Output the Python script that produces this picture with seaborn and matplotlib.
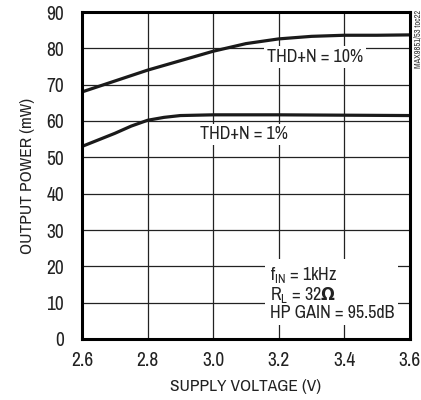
import matplotlib
matplotlib.use("Agg")
import matplotlib.pyplot as plt
import seaborn as sns
import pandas as pd
from matplotlib import font_manager

v10 = [2.60, 2.70, 2.80, 2.90, 3.00, 3.10, 3.20, 3.30, 3.40, 3.50, 3.60]
p10 = [68.0, 71.0, 74.0, 76.6, 79.2, 81.3, 82.6, 83.3, 83.6, 83.6, 83.7]
v1 = [2.60, 2.70, 2.75, 2.80, 2.85, 2.90, 3.00, 3.20, 3.40, 3.60]
p1 = [53.0, 56.6, 58.6, 60.2, 61.0, 61.5, 61.7, 61.7, 61.6, 61.5]

xticks = [2.6, 2.8, 3.0, 3.2, 3.4, 3.6]
xtick_labels = ["2.6", "2.8", "3.0", "3.2", "3.4", "3.6"]
yticks = list(range(0, 91, 10))

sns.set_theme(style="white")
cands = sorted({(f.name, f.stretch) for f in font_manager.fontManager.ttflist})
narrow = [n for n, s in cands if "Narrow" in n or "Condensed" in n]
fam = narrow[0] if narrow else "DejaVu Sans"
plt.rcParams["font.family"] = [fam, "DejaVu Sans"]
plt.rcParams["font.stretch"] = "condensed"
plt.rcParams["mathtext.fontset"] = "dejavusans"

fig = plt.figure(figsize=(4.21, 4.00), dpi=100)
ax = fig.add_axes([82/421, 1-339/400, (410-82)/421, (339-12)/400])

df = pd.concat([
    pd.DataFrame({"v": v10, "p": p10, "s": "10"}),
    pd.DataFrame({"v": v1, "p": p1, "s": "1"}),
])
sns.lineplot(data=df, x="v", y="p", units="s", estimator=None, color="#1a1a1a",
             lw=2.3, ax=ax, zorder=3, legend=False)

ax.set_xlim(2.6, 3.6)
ax.set_ylim(0, 90)
ax.set_xticks(xticks)
ax.set_xticklabels(xtick_labels)
ax.set_yticks(yticks)
ax.grid(True, color="#222222", lw=0.9)
ax.set_axisbelow(True)
for s in ax.spines.values():
    s.set_color("black")
    s.set_linewidth(2.2)
    s.set_zorder(5)
ax.tick_params(length=0, labelsize=14, colors="#222222", pad=9)
ax.tick_params(axis="y", pad=13)
ax.set_xlabel("SUPPLY VOLTAGE (V)", fontsize=12.5, color="#222222", labelpad=6)
ax.set_ylabel("OUTPUT POWER (mW)", fontsize=12.5, color="#222222", labelpad=8)

bb = dict(facecolor="white", edgecolor="none", pad=2)
ax.text(3.31, 77.6, "THD+N = 10%", fontsize=13, ha="center", va="center",
        color="#222222", bbox=bb, zorder=4)
ax.text(3.095, 56.3, "THD+N = 1%", fontsize=13, ha="center", va="center",
        color="#222222", bbox=bb, zorder=4)
ax.text(3.172, 12.6, "f$_{\\mathregular{IN}}$ = 1kHz\nR$_{\\mathregular{L}}$ = 32$\\mathbf{\\Omega}$\nHP GAIN = 95.5dB",
        fontsize=13, ha="left", va="center", color="#222222", linespacing=1.0,
        bbox=dict(facecolor="white", edgecolor="none", pad=3), zorder=4)

fig.text(418/421, 1-10/400, "MAX9851/53 toc22", rotation=90, fontsize=6,
         ha="center", va="top", color="#333333")

fig.savefig("out.png", dpi=100)
